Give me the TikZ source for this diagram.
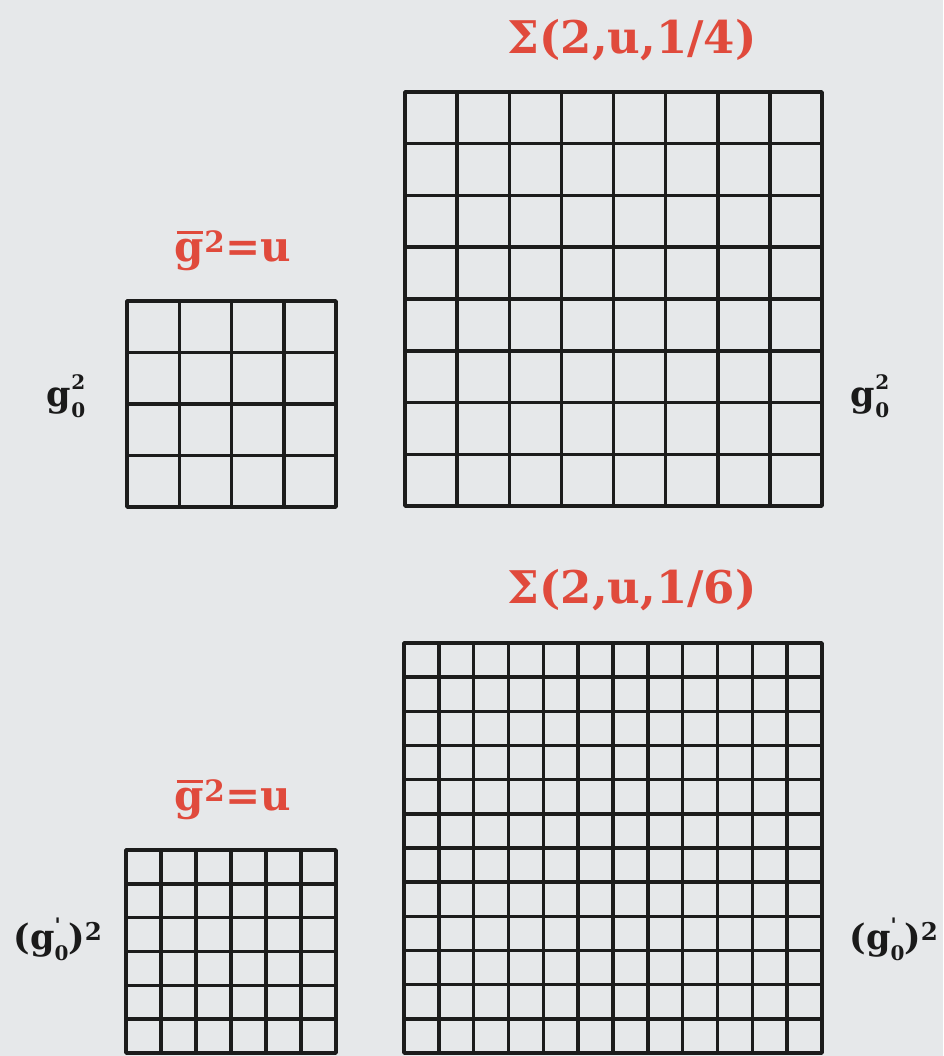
\documentclass[tikz,border=0pt]{standalone}
\usepackage{fontspec}
\usepackage{graphicx}
\newfontfamily\labfont{DejaVu Serif}
\definecolor{bgc}{HTML}{E6E8EA}
\definecolor{redc}{HTML}{E04A3C}
\definecolor{linec}{HTML}{1C1C1C}
\definecolor{blkc}{HTML}{1A1A1A}
\newcommand\stk[2]{\rlap{\raisebox{0.5em}{\fontsize{20}{20}\selectfont #1}}\raisebox{-0.3em}{\fontsize{20}{20}\selectfont #2}}
\newcommand\barg{\rlap{\hspace{0.04em}\rule[0.66em]{0.62em}{2.6pt}}g}
\newcommand\latticebox[6]{%
  \draw[gridline] (#1,#2) rectangle ++(#3,#4);
  \foreach \i in {1,...,#6}{
    \draw[gridline] (#1+\i*#3/#5,#2) -- ++(0,#4);
    \draw[gridline] (#1,#2+\i*#4/#5) -- ++(#3,0);
  }}
\begin{document}
\begin{tikzpicture}[x=1pt,y=-1pt,
  gridline/.style={draw=linec,line width=3.5pt,line cap=round,line join=round},
  redlab/.style={text=redc,font=\labfont\bfseries\fontsize{42}{42}\selectfont,inner sep=0pt},
  sigmalab/.style={redlab,font=\labfont\bfseries\fontsize{45}{45}\selectfont},
  blklab/.style={text=blkc,font=\labfont\bfseries\fontsize{35}{35}\selectfont,inner sep=0pt}]
\useasboundingbox (0,0) rectangle (943,1056);
\fill[bgc] (0,0) rectangle (943,1056);
\latticebox{127}{301}{209}{206}{4}{3}
\latticebox{405}{92}{417}{414}{8}{7}
\latticebox{126}{850}{210}{203}{6}{5}
\latticebox{404}{643}{418}{410}{12}{11}
\node[sigmalab] (s1) at (632,40) {Σ(2,u,1/4)};
\node[sigmalab] (s2) at (632,590) {Σ(2,u,1/6)};
\node[redlab] (u1) at (233,251) {\barg\textsuperscript{2}=u};
\node[redlab] (u2) at (233,800) {\barg\textsuperscript{2}=u};
\node[blklab] (l1) at (66,396) {g\stk{2}{0}};
\node[blklab] (r1) at (870,396) {g\stk{2}{0}};
\node[blklab] (l2) at (58,939) {(g\stk{'}{0})\textsuperscript{2}};
\node[blklab] (r2) at (894,939) {(g\stk{'}{0})\textsuperscript{2}};
\end{tikzpicture}
\end{document}
